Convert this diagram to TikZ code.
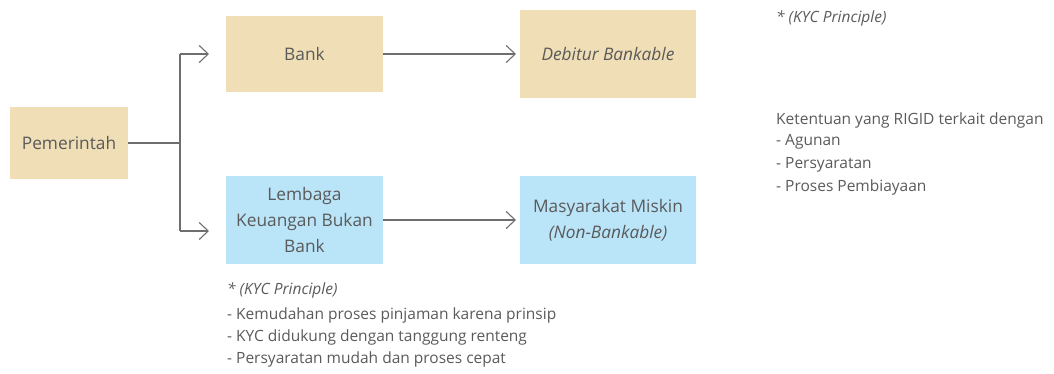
\documentclass[tikz,border=0pt]{standalone}
\usepackage{fontspec}
\setmainfont{Open Sans}
\usetikzlibrary{arrows.meta}
\definecolor{tan}{HTML}{EFDEB6}
\definecolor{sky}{HTML}{BAE4F8}
\definecolor{ink}{HTML}{5A5A5A}
\definecolor{wire}{HTML}{6E6E6E}
\tikzset{
  box/.style={draw=none, inner sep=0pt, text=ink, align=center,
    font=\fontsize{17.3}{26}\selectfont},
  tanbox/.style={box, fill=tan},
  skybox/.style={box, fill=sky},
  link/.style={draw=wire, line width=1.1pt, -{Straight Barb[length=9pt,width=17pt,line width=1.1pt]}},
  plain/.style={draw=wire, line width=1.1pt},
  note/.style={text=ink, anchor=west, inner sep=0pt},
  notefont/.style={font=\fontsize{15.5}{22}\selectfont},
}
\begin{document}
\begin{tikzpicture}[x=1pt,y=-1pt]
\useasboundingbox (0,0) rectangle (1054,373);

% boxes
\node[tanbox, minimum width=118pt, minimum height=72pt] (gov) at (69,143) {Pemerintah};
\node[tanbox, minimum width=157pt, minimum height=76pt] (bank) at (304.5,54) {Bank};
\node[skybox, minimum width=157pt, minimum height=88pt] (lkbb) at (304.5,220) {Lembaga\\Keuangan Bukan\\Bank};
\node[tanbox, minimum width=176pt, minimum height=88pt] (deb) at (608,54) {\itshape Debitur Bankable};
\node[skybox, minimum width=176pt, minimum height=88pt] (poor) at (608,220) {Masyarakat Miskin\\\itshape (Non-Bankable)};

% branching connector from Pemerintah
\coordinate (fork) at (180,143);
\coordinate (forkup) at (180,54);
\coordinate (forkdn) at (180,231);
\coordinate (tipup) at (209,54);
\coordinate (tipdn) at (209,231);
\draw[plain] (gov.east) -- (fork);
\draw[plain] (forkup) -- (forkdn);
\draw[link] (forkup) -- (tipup);
\draw[link] (forkdn) -- (tipdn);

% onward connectors
\coordinate (debin) at (516,54);
\coordinate (poorin) at (516,220);
\draw[link] (bank.east) -- (debin);
\draw[link] (lkbb.east) -- (poorin);

% notes, one line per node
\begin{scope}[every node/.append style={note, notefont}]
\node (kyc1) at (776,18) {\itshape * (KYC Principle)};
\node (rigid0) at (776,120) {Ketentuan yang RIGID terkait dengan};
\node (rigid1) at (776,142) {- Agunan};
\node (rigid2) at (776,164.5) {- Persyaratan};
\node (rigid3) at (776,187) {- Proses Pembiayaan};
\node (kyc2) at (227,290) {\itshape * (KYC Principle)};
\node (easy1) at (227,315) {- Kemudahan proses pinjaman karena prinsip};
\node (easy2) at (227,337) {- KYC didukung dengan tanggung renteng};
\node (easy3) at (227,359) {- Persyaratan mudah dan proses cepat};
\end{scope}
\end{tikzpicture}
\end{document}
